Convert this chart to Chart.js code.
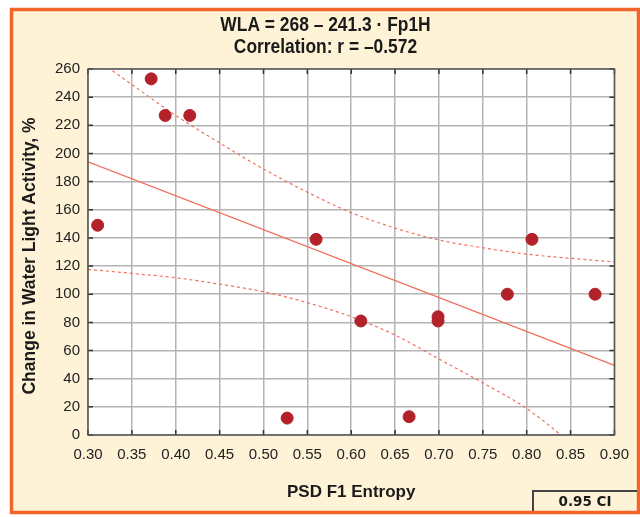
<!DOCTYPE html>
<html>
<head>
<meta charset="utf-8">
<script src="https://cdn.jsdelivr.net/npm/chart.js@4.4.1/dist/chart.umd.min.js"></script>
<style>
  html, body { margin: 0; padding: 0; background: #ffffff; }
  #wrap { width: 640px; height: 517px; position: relative; }
</style>
</head>
<body>
<div id="wrap"><canvas id="c" width="640" height="517"></canvas></div>
<script>
// ---- data ----
const titleLines = ['WLA = 268 \u2013 241.3 \u00b7 Fp1H', 'Correlation: r = \u20130.572'];
const xAxisTitle = 'PSD F1 Entropy';
const yAxisTitle = 'Change in Water Light Activity, %';
const ciLabel = '0.95 CI';

const entropyX = [0.311, 0.372, 0.388, 0.416, 0.527, 0.560, 0.611, 0.666, 0.699, 0.699, 0.778, 0.806, 0.878];
const wlaY     = [149,   253,   227,   227,   12,    139,   81,    13,    84,    81,    100,   139,   100];

const fitX = [0.30, 0.90];
const fitY = [194, 49.5];

const ciX     = [0.30, 0.35, 0.40, 0.45, 0.50, 0.55, 0.60, 0.65, 0.70, 0.75, 0.80, 0.85, 0.90];
const ciUpper = [271,  249,  227,  207.5, 189, 172.5, 158,  147,  138.5, 133, 128.5, 125.5, 123];
const ciLower = [117.7, 114.8, 111.7, 107.2, 101.8, 94, 84,  71,   54,   37,   18.8, -6,   -35];

const xTicks = [0.30, 0.35, 0.40, 0.45, 0.50, 0.55, 0.60, 0.65, 0.70, 0.75, 0.80, 0.85, 0.90];
const yTicks = [0, 20, 40, 60, 80, 100, 120, 140, 160, 180, 200, 220, 240, 260];

// ---- styling ----
const FONT = '"Liberation Sans", Arial, sans-serif';
const ORANGE = '#F1652A';
const CREAM = '#FEF3D7';
const LINE = '#F0705A';
const DOT = '#B3222A';

// the original title uses a narrow typeface and is centred on the frame
function textAdjust(text) {
  if (titleLines.includes(text)) return {f: 0.87, dx: 17};
  if (text === yAxisTitle) return {f: 1, dx: -4};
  return null;
}
const canvas = document.getElementById('c');
const ctx0 = canvas.getContext('2d');
const origFill = ctx0.fillText;
ctx0.fillText = function (text, x, y, maxWidth) {
  const adj = textAdjust(String(text));
  if (!adj) {
    return maxWidth === undefined ? origFill.call(this, text, x, y) : origFill.call(this, text, x, y, maxWidth);
  }
  this.save();
  this.translate(x + adj.dx, y);
  this.scale(adj.f, 1);
  if (maxWidth === undefined) origFill.call(this, text, 0, 0);
  else origFill.call(this, text, 0, 0, maxWidth / adj.f);
  this.restore();
};

const zip = (xs, ys) => xs.map((x, i) => ({x: x, y: ys[i]}));

const framePlugin = {
  id: 'frame',
  beforeDraw(chart) {
    const ctx = chart.ctx;
    const a = chart.chartArea;
    ctx.save();
    ctx.fillStyle = '#ffffff';
    ctx.fillRect(0, 0, chart.width, chart.height);
    ctx.fillStyle = CREAM;
    ctx.fillRect(10, 8, 630, 506);
    ctx.strokeStyle = ORANGE;
    ctx.lineWidth = 3.5;
    ctx.strokeRect(11.5, 9.5, 627, 503);
    ctx.fillStyle = '#ffffff';
    ctx.fillRect(a.left, a.top, a.right - a.left, a.bottom - a.top);
    ctx.restore();
  },
  afterDraw(chart) {
    const ctx = chart.ctx;
    const a = chart.chartArea;
    const xs = chart.scales.x, ys = chart.scales.y;
    ctx.save();
    ctx.strokeStyle = '#333333';
    ctx.lineWidth = 1.5;
    ctx.beginPath();
    yTicks.forEach(v => {
      const p = ys.getPixelForValue(v);
      ctx.moveTo(a.left, p); ctx.lineTo(a.left + 5, p);
      ctx.moveTo(a.right, p); ctx.lineTo(a.right - 5, p);
    });
    xTicks.forEach(v => {
      const p = xs.getPixelForValue(v);
      ctx.moveTo(p, a.bottom); ctx.lineTo(p, a.bottom - 5);
      ctx.moveTo(p, a.top); ctx.lineTo(p, a.top + 5);
    });
    ctx.stroke();
    ctx.strokeStyle = '#555555';
    ctx.lineWidth = 1.5;
    ctx.strokeRect(a.left, a.top, a.right - a.left, a.bottom - a.top);
    ctx.strokeStyle = '#444444';
    ctx.lineWidth = 2;
    ctx.beginPath();
    ctx.moveTo(533, 511);
    ctx.lineTo(533, 491);
    ctx.lineTo(637, 491);
    ctx.stroke();
    ctx.fillStyle = '#1a1a1a';
    ctx.font = 'bold 13.5px "DejaVu Sans", sans-serif';
    ctx.textAlign = 'center';
    ctx.textBaseline = 'alphabetic';
    ctx.fillText(ciLabel, 585, 506);
    ctx.restore();
  }
};

new Chart(canvas, {
  type: 'scatter',
  data: {
    datasets: [
      {
        label: 'data',
        data: zip(entropyX, wlaY),
        backgroundColor: DOT,
        borderColor: DOT,
        pointRadius: 6,
        pointHoverRadius: 6,
        showLine: false
      },
      {
        label: 'fit',
        data: zip(fitX, fitY),
        showLine: true,
        borderColor: LINE,
        borderWidth: 1.3,
        pointRadius: 0,
        fill: false
      },
      {
        label: 'upper',
        data: zip(ciX, ciUpper),
        showLine: true,
        borderColor: LINE,
        borderWidth: 1.2,
        borderDash: [3, 3],
        pointRadius: 0,
        cubicInterpolationMode: 'monotone',
        fill: false
      },
      {
        label: 'lower',
        data: zip(ciX, ciLower),
        showLine: true,
        borderColor: LINE,
        borderWidth: 1.2,
        borderDash: [3, 3],
        pointRadius: 0,
        cubicInterpolationMode: 'monotone',
        fill: false
      }
    ]
  },
  options: {
    responsive: false,
    animation: false,
    devicePixelRatio: 1,
    layout: { padding: { left: 0, right: 23, top: 0, bottom: 0 } },
    plugins: {
      legend: { display: false },
      tooltip: { enabled: false },
      title: {
        display: true,
        text: titleLines,
        color: '#1a1a1a',
        font: { family: FONT, size: 20, weight: 'bold', lineHeight: 1.1 },
        padding: { top: 14, bottom: 11 }
      }
    },
    scales: {
      x: {
        type: 'linear',
        min: 0.30,
        max: 0.90,
        afterBuildTicks: s => { s.ticks = xTicks.map(v => ({value: v})); },
        afterFit: s => { s.height = 82; },
        ticks: {
          color: '#222222',
          font: { family: FONT, size: 15 },
          padding: 11,
          maxRotation: 0,
          autoSkip: false,
          callback: v => Number(v).toFixed(2)
        },
        grid: { color: '#b4b4b4', lineWidth: 1.5, drawTicks: false },
        border: { display: false },
        title: {
          display: true,
          text: xAxisTitle,
          color: '#1a1a1a',
          font: { family: FONT, size: 17, weight: 'bold' },
          padding: { top: 0, bottom: 14 }
        }
      },
      y: {
        type: 'linear',
        min: 0,
        max: 260,
        afterBuildTicks: s => { s.ticks = yTicks.map(v => ({value: v})); },
        afterFit: s => { s.width = 88; },
        ticks: {
          color: '#222222',
          font: { family: FONT, size: 15 },
          padding: 8,
          autoSkip: false
        },
        grid: { color: '#b4b4b4', lineWidth: 1.5, drawTicks: false },
        border: { display: false },
        title: {
          display: true,
          text: yAxisTitle,
          color: '#1a1a1a',
          font: { family: FONT, size: 17.5, weight: 'bold' },
          padding: { top: 20, bottom: 0 }
        }
      }
    }
  },
  plugins: [framePlugin]
});
</script>
</body>
</html>
